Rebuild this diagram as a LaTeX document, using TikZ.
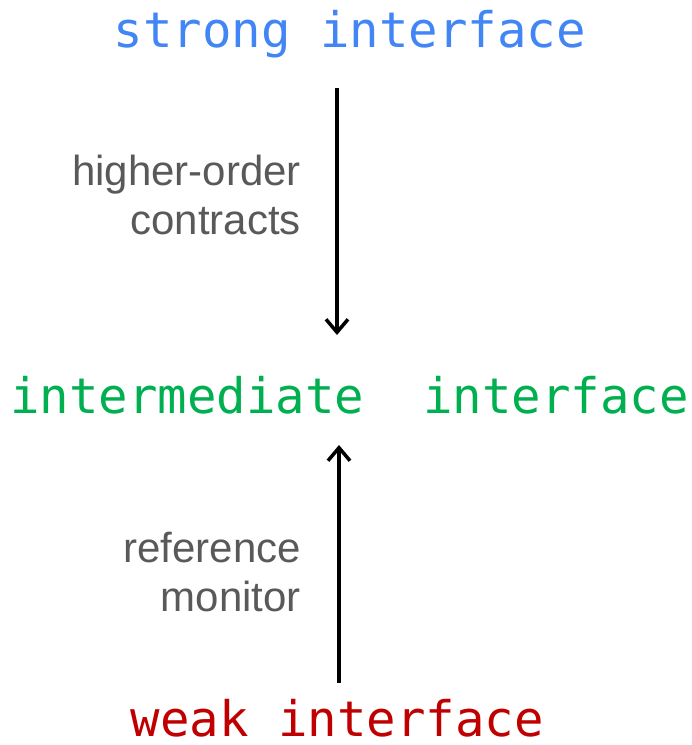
\documentclass[tikz,border=0pt]{standalone}
\usepackage{fontspec}
\setmainfont{Liberation Sans}
\newfontfamily\codefont{DejaVu Sans Mono}
\usetikzlibrary{arrows.meta}
\definecolor{strongblue}{RGB}{66,133,244}
\definecolor{midgreen}{RGB}{0,176,80}
\definecolor{weakred}{RGB}{192,0,0}
\definecolor{labelgray}{RGB}{89,89,89}
\begin{document}
\begin{tikzpicture}[x=1pt,y=-1pt,
  iface/.style={anchor=base,inner sep=0pt,text depth=0pt,font=\codefont\fontsize{49}{56}\selectfont},
  note/.style={anchor=base east,inner sep=0pt,align=right,text=labelgray,
    font=\fontsize{42}{49}\selectfont},
  link/.style={line width=3.5pt,-{Straight Barb[length=13pt,width=22pt]}}]
\useasboundingbox (0,0) rectangle (692,745);

\node[iface,text=strongblue] (strong) at (350,47) {strong interface};
\node[iface,text=midgreen] (mid) at (349.5,413) {intermediate\ \ interface};
\node[iface,text=weakred] (weak) at (337.5,736) {weak interface};

\coordinate (t1) at (337,88);
\coordinate (t2) at (337,335);
\coordinate (b1) at (339,683);
\coordinate (b2) at (339,445);

\draw[link] (t1) -- (t2);
\draw[link] (b1) -- (b2);

% the base anchor of a two-line note sits on its last line
\node[note] (hoc) at (301,234) {higher-order\\contracts};
\node[note] (rm) at (301,611) {reference\\monitor};
\end{tikzpicture}
\end{document}
